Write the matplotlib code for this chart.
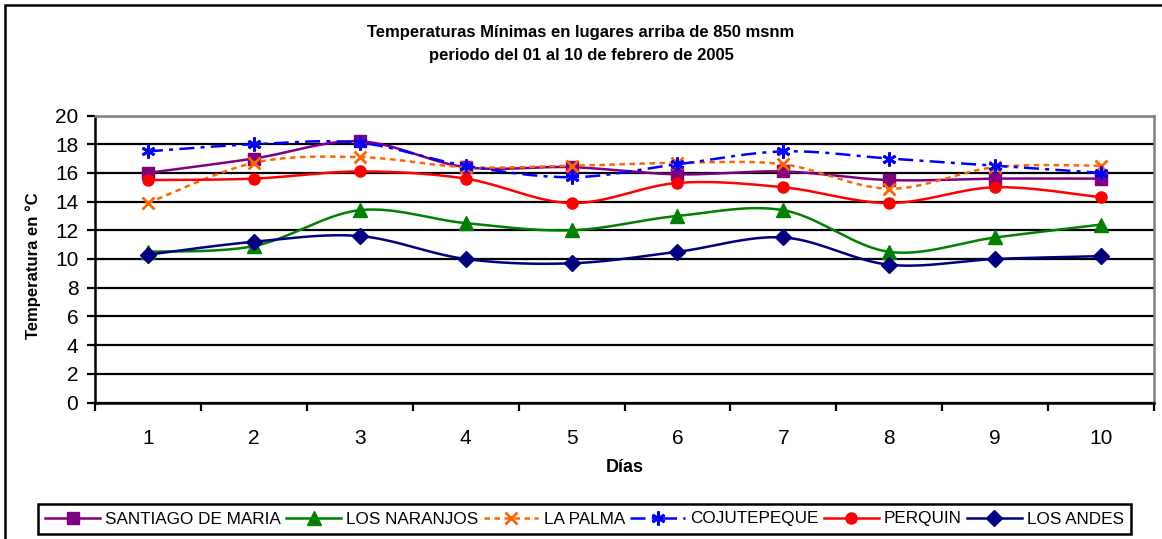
import numpy as np
import matplotlib
matplotlib.use("Agg")
import matplotlib.pyplot as plt
from matplotlib.patches import Rectangle

plt.rcParams['font.family'] = ['Liberation Sans', 'DejaVu Sans']

# ---- data ----
dias = [1, 2, 3, 4, 5, 6, 7, 8, 9, 10]
santiago = [16.0, 17.0, 18.2, 16.4, 16.4, 15.9, 16.1, 15.5, 15.6, 15.6]
naranjos = [10.5, 10.9, 13.4, 12.5, 12.0, 13.0, 13.4, 10.5, 11.5, 12.4]
la_palma = [13.9, 16.7, 17.1, 16.4, 16.5, 16.7, 16.6, 14.9, 16.4, 16.5]
cojutepeque = [17.5, 18.0, 18.1, 16.5, 15.7, 16.6, 17.5, 17.0, 16.5, 16.0]
perquin = [15.5, 15.6, 16.1, 15.6, 13.9, 15.3, 15.0, 13.9, 15.0, 14.3]
los_andes = [10.3, 11.2, 11.6, 10.0, 9.7, 10.5, 11.5, 9.6, 10.0, 10.2]
series_names = ["SANTIAGO DE MARIA", "LOS NARANJOS", "LA PALMA",
                "COJUTEPEQUE", "PERQUIN", "LOS ANDES"]
y_ticks = [0, 2, 4, 6, 8, 10, 12, 14, 16, 18, 20]
title = "Temperaturas Mínimas en lugares arriba de 850 msnm\nperiodo del 01 al 10 de febrero de 2005"
xlabel = "Días"
ylabel = "Temperatura en °C"

W, H = 1162, 539
fig = plt.figure(figsize=(W / 100, H / 100), dpi=100)

def fx(px):
    return px / W

def fy(py):
    return 1 - py / H

ax_l, ax_r, ax_t, ax_b = 95, 1154, 115.5, 402.5
ax = fig.add_axes([fx(ax_l), fy(ax_b), fx(ax_r - ax_l), (ax_b - ax_t) / H])


def smooth(x, y, n=20):
    """Excel-like smoothed line (Bezier through points, Catmull-Rom control points)."""
    x = np.asarray(x, float)
    y = np.asarray(y, float)
    P = np.column_stack([x, y])
    ext = np.vstack([P[0], P, P[-1]])
    out = []
    t = np.linspace(0, 1, n, endpoint=False)
    for i in range(len(P) - 1):
        p0 = ext[i + 1]
        p3 = ext[i + 2]
        c1 = p0 + (ext[i + 2] - ext[i]) / 6.0
        c2 = p3 - (ext[i + 3] - ext[i + 1]) / 6.0
        seg = ((1 - t) ** 3)[:, None] * p0 + (3 * (1 - t) ** 2 * t)[:, None] * c1 \
            + (3 * (1 - t) * t ** 2)[:, None] * c2 + (t ** 3)[:, None] * p3
        out.append(seg)
    out.append(P[-1][None, :])
    out = np.vstack(out)
    marks = [i * n for i in range(len(P))]
    return out[:, 0], out[:, 1], marks


styles = [
    dict(color="#800080", ls="-", marker="s", ms=8),
    dict(color="#008000", ls="-", marker="^", ms=9.5),
    dict(color="#FF6600", ls=(0, (2.2, 1.8)), marker="x", ms=8, mew=2),
    dict(color="#0000FF", ls=(0, (6, 2.5, 1.6, 2.5)), marker=(6, 2, 0), ms=10, mew=2),
    dict(color="#FF0000", ls="-", marker="o", ms=8),
    dict(color="#000080", ls="-", marker="D", ms=8.5),
]
all_series = [santiago, naranjos, la_palma, cojutepeque, perquin, los_andes]

handles = []
for name, vals, st in zip(series_names, all_series, styles):
    sx, sy, marks = smooth(dias, vals)
    ln, = ax.plot(sx, sy, color=st["color"], linestyle=st["ls"], lw=1.8,
                  marker=st["marker"], markersize=st["ms"], markevery=marks,
                  markerfacecolor=st["color"], markeredgecolor=st["color"],
                  markeredgewidth=st.get("mew", 1), label=name, zorder=3,
                  clip_on=False)
    handles.append(ln)

ax.set_xlim(0.5, 10.5)
ax.set_ylim(0, 20)
ax.set_yticks(y_ticks)
ax.set_xticks(dias)
ax.set_xticks(np.arange(0.5, 11, 1), minor=True)
ax.set_xticklabels([str(d) for d in dias])
ax.tick_params(axis="x", which="major", length=0, pad=19, labelsize=15)
ax.tick_params(axis="x", which="minor", length=6, width=1.6, direction="out", color="black")
ax.tick_params(axis="y", which="major", length=6, width=1.6, direction="out", pad=6, labelsize=15)

ax.set_axisbelow(True)
ax.yaxis.grid(True, color="black", lw=1.6)
ax.xaxis.grid(False)
for s in ["left", "bottom"]:
    ax.spines[s].set_color("black")
    ax.spines[s].set_linewidth(1.8)
for s in ["top", "right"]:
    ax.spines[s].set_color("#808080")
    ax.spines[s].set_linewidth(1.8)

fig.text(fx(581), fy(44), title, ha="center", va="center", fontsize=12,
         fontweight="bold", linespacing=1.65)
fig.text(fx(625), fy(467), xlabel, ha="center", va="center", fontsize=13,
         fontweight="bold")
fig.text(fx(33), fy(266), ylabel, ha="center", va="center", fontsize=12,
         fontweight="bold", rotation=90)

leg = fig.legend(handles, series_names, loc="center",
                 bbox_to_anchor=(fx(584.5), fy(519)), ncol=6, fontsize=12.3,
                 frameon=True, fancybox=False, framealpha=1, edgecolor="black",
                 borderpad=0.42, handlelength=3.2, handletextpad=0.3,
                 columnspacing=0.32, numpoints=1, borderaxespad=0)
leg.get_frame().set_linewidth(1.8)

# outer chart frame
fig.patches.append(Rectangle((fx(5), fy(600)), fx(1200), (600 - 5) / H,
                             transform=fig.transFigure, fill=False,
                             edgecolor="black", lw=1.8))

fig.savefig("out.png", dpi=100)
